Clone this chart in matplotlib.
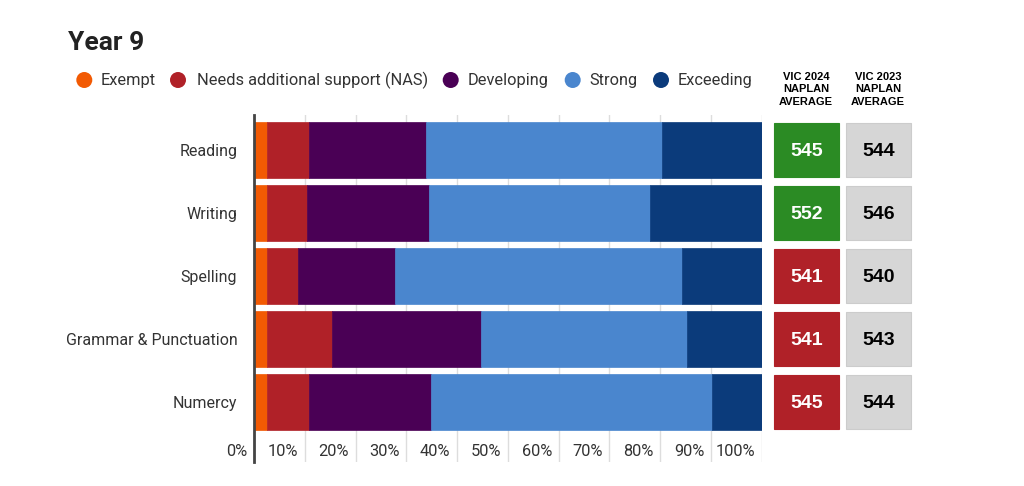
import matplotlib
matplotlib.use("Agg")
import matplotlib.pyplot as plt
from matplotlib.patches import Rectangle, Ellipse

categories = ["Reading", "Writing", "Spelling", "Grammar & Punctuation", "Numercy"]
levels = ["Exempt", "Needs additional support (NAS)", "Developing", "Strong", "Exceeding"]
exempt = [2.6, 2.6, 2.6, 2.6, 2.6]
nas = [8.3, 7.8, 6.0, 12.7, 8.3]
developing = [23.0, 24.0, 19.1, 29.5, 23.9]
strong = [46.5, 43.6, 56.7, 40.6, 55.5]
exceeding = [19.6, 22.0, 15.6, 14.6, 9.7]
vic2024 = [545, 552, 541, 541, 545]
vic2023 = [544, 546, 540, 543, 544]
vic2024_status = ["above", "above", "below", "below", "below"]
tick_values = [0, 10, 20, 30, 40, 50, 60, 70, 80, 90, 100]
tick_labels = ["0%", "10%", "20%", "30%", "40%", "50%", "60%", "70%", "80%", "90%", "100%"]

colors = ["#f25a03", "#b02128", "#4a0055", "#4a86ce", "#0b3b7b"]
status_colors = {"above": "#2b8b24", "below": "#b02128"}

plt.rcParams['font.family'] = ['Roboto', 'DejaVu Sans']

W, H = 1024, 486
fig = plt.figure(figsize=(W / 100, H / 100), dpi=100)
x0, x1, ytop, ybot = 254, 761.5, 115, 462
ax = fig.add_axes([x0 / W, 1 - ybot / H, (x1 - x0) / W, (ybot - ytop) / H])

series = [exempt, nas, developing, strong, exceeding]
ypos = list(range(len(categories)))
left = [0.0] * len(categories)
for vals, col in zip(series, colors):
    ax.barh(ypos, vals, left=left, height=0.89, color=col, edgecolor=col, linewidth=0.5, zorder=3)
    left = [l + v for l, v in zip(left, vals)]

ax.set_xlim(0, 100)
ax.set_ylim(4.952, -0.556)
ax.set_xticks(tick_values)
ax.set_xticklabels([])
ax.tick_params(axis='x', length=0)
ax.set_yticks(ypos)
ax.set_yticklabels(categories, fontsize=11.5, color="#333333")
ax.tick_params(axis='y', length=0, pad=12)
ax.grid(axis='x', color="#dddddd", linewidth=1, zorder=0)
ax.set_axisbelow(True)
for s in ["top", "right", "bottom"]:
    ax.spines[s].set_visible(False)
ax.spines["left"].set_color("#444444")
ax.spines["left"].set_linewidth(2)
ax.spines["left"].set_zorder(5)

for tv, tl in zip(tick_values, tick_labels):
    ax.text(tv - 1.3, 4.79, tl, ha='right', va='center', fontsize=11.8, color="#333333")

# side boxes
for i in ypos:
    c = status_colors[vic2024_status[i]]
    ax.add_patch(Rectangle((102.5, i - 0.43), 12.8, 0.86, facecolor=c, edgecolor=c, linewidth=0.8,
                           clip_on=False, zorder=3))
    ax.text(108.9, i + 0.02, str(vic2024[i]), ha='center', va='center', fontsize=14, fontweight='bold',
            color='white', family=['Liberation Sans', 'DejaVu Sans'], clip_on=False)
    ax.add_patch(Rectangle((116.7, i - 0.43), 12.7, 0.86, facecolor="#d6d6d6", edgecolor="#cccccc",
                           linewidth=0.8, clip_on=False, zorder=3))
    ax.text(123.05, i + 0.02, str(vic2023[i]), ha='center', va='center', fontsize=14, fontweight='bold',
            color='black', family=['Liberation Sans', 'DejaVu Sans'], clip_on=False)

fig.text(806 / W, 1 - 89.5 / H, "VIC 2024\nNAPLAN\nAVERAGE", ha='center', va='center', fontsize=8,
         fontweight='bold', family=['Liberation Sans', 'DejaVu Sans'], linespacing=1.3, color='black')
fig.text(878 / W, 1 - 89.5 / H, "VIC 2023\nNAPLAN\nAVERAGE", ha='center', va='center', fontsize=8,
         fontweight='bold', family=['Liberation Sans', 'DejaVu Sans'], linespacing=1.3, color='black')

# title
fig.text(68 / W, 1 - 43 / H, "Year 9", ha='left', va='center', fontsize=19, fontweight='bold', color="#222222")

# legend
circle_x = [84.3, 178, 450.7, 572.7, 661]
text_x = [101, 196.7, 468, 589, 678]
ly = 80
for cx, tx, lab, col in zip(circle_x, text_x, levels, colors):
    fig.patches.append(Ellipse((cx / W, 1 - ly / H), 16 / W, 16 / H, transform=fig.transFigure,
                               facecolor=col, edgecolor='none'))
    fig.text(tx / W, 1 - ly / H, lab, ha='left', va='center', fontsize=11.8, color="#333333")

fig.savefig("out.png", dpi=100)
